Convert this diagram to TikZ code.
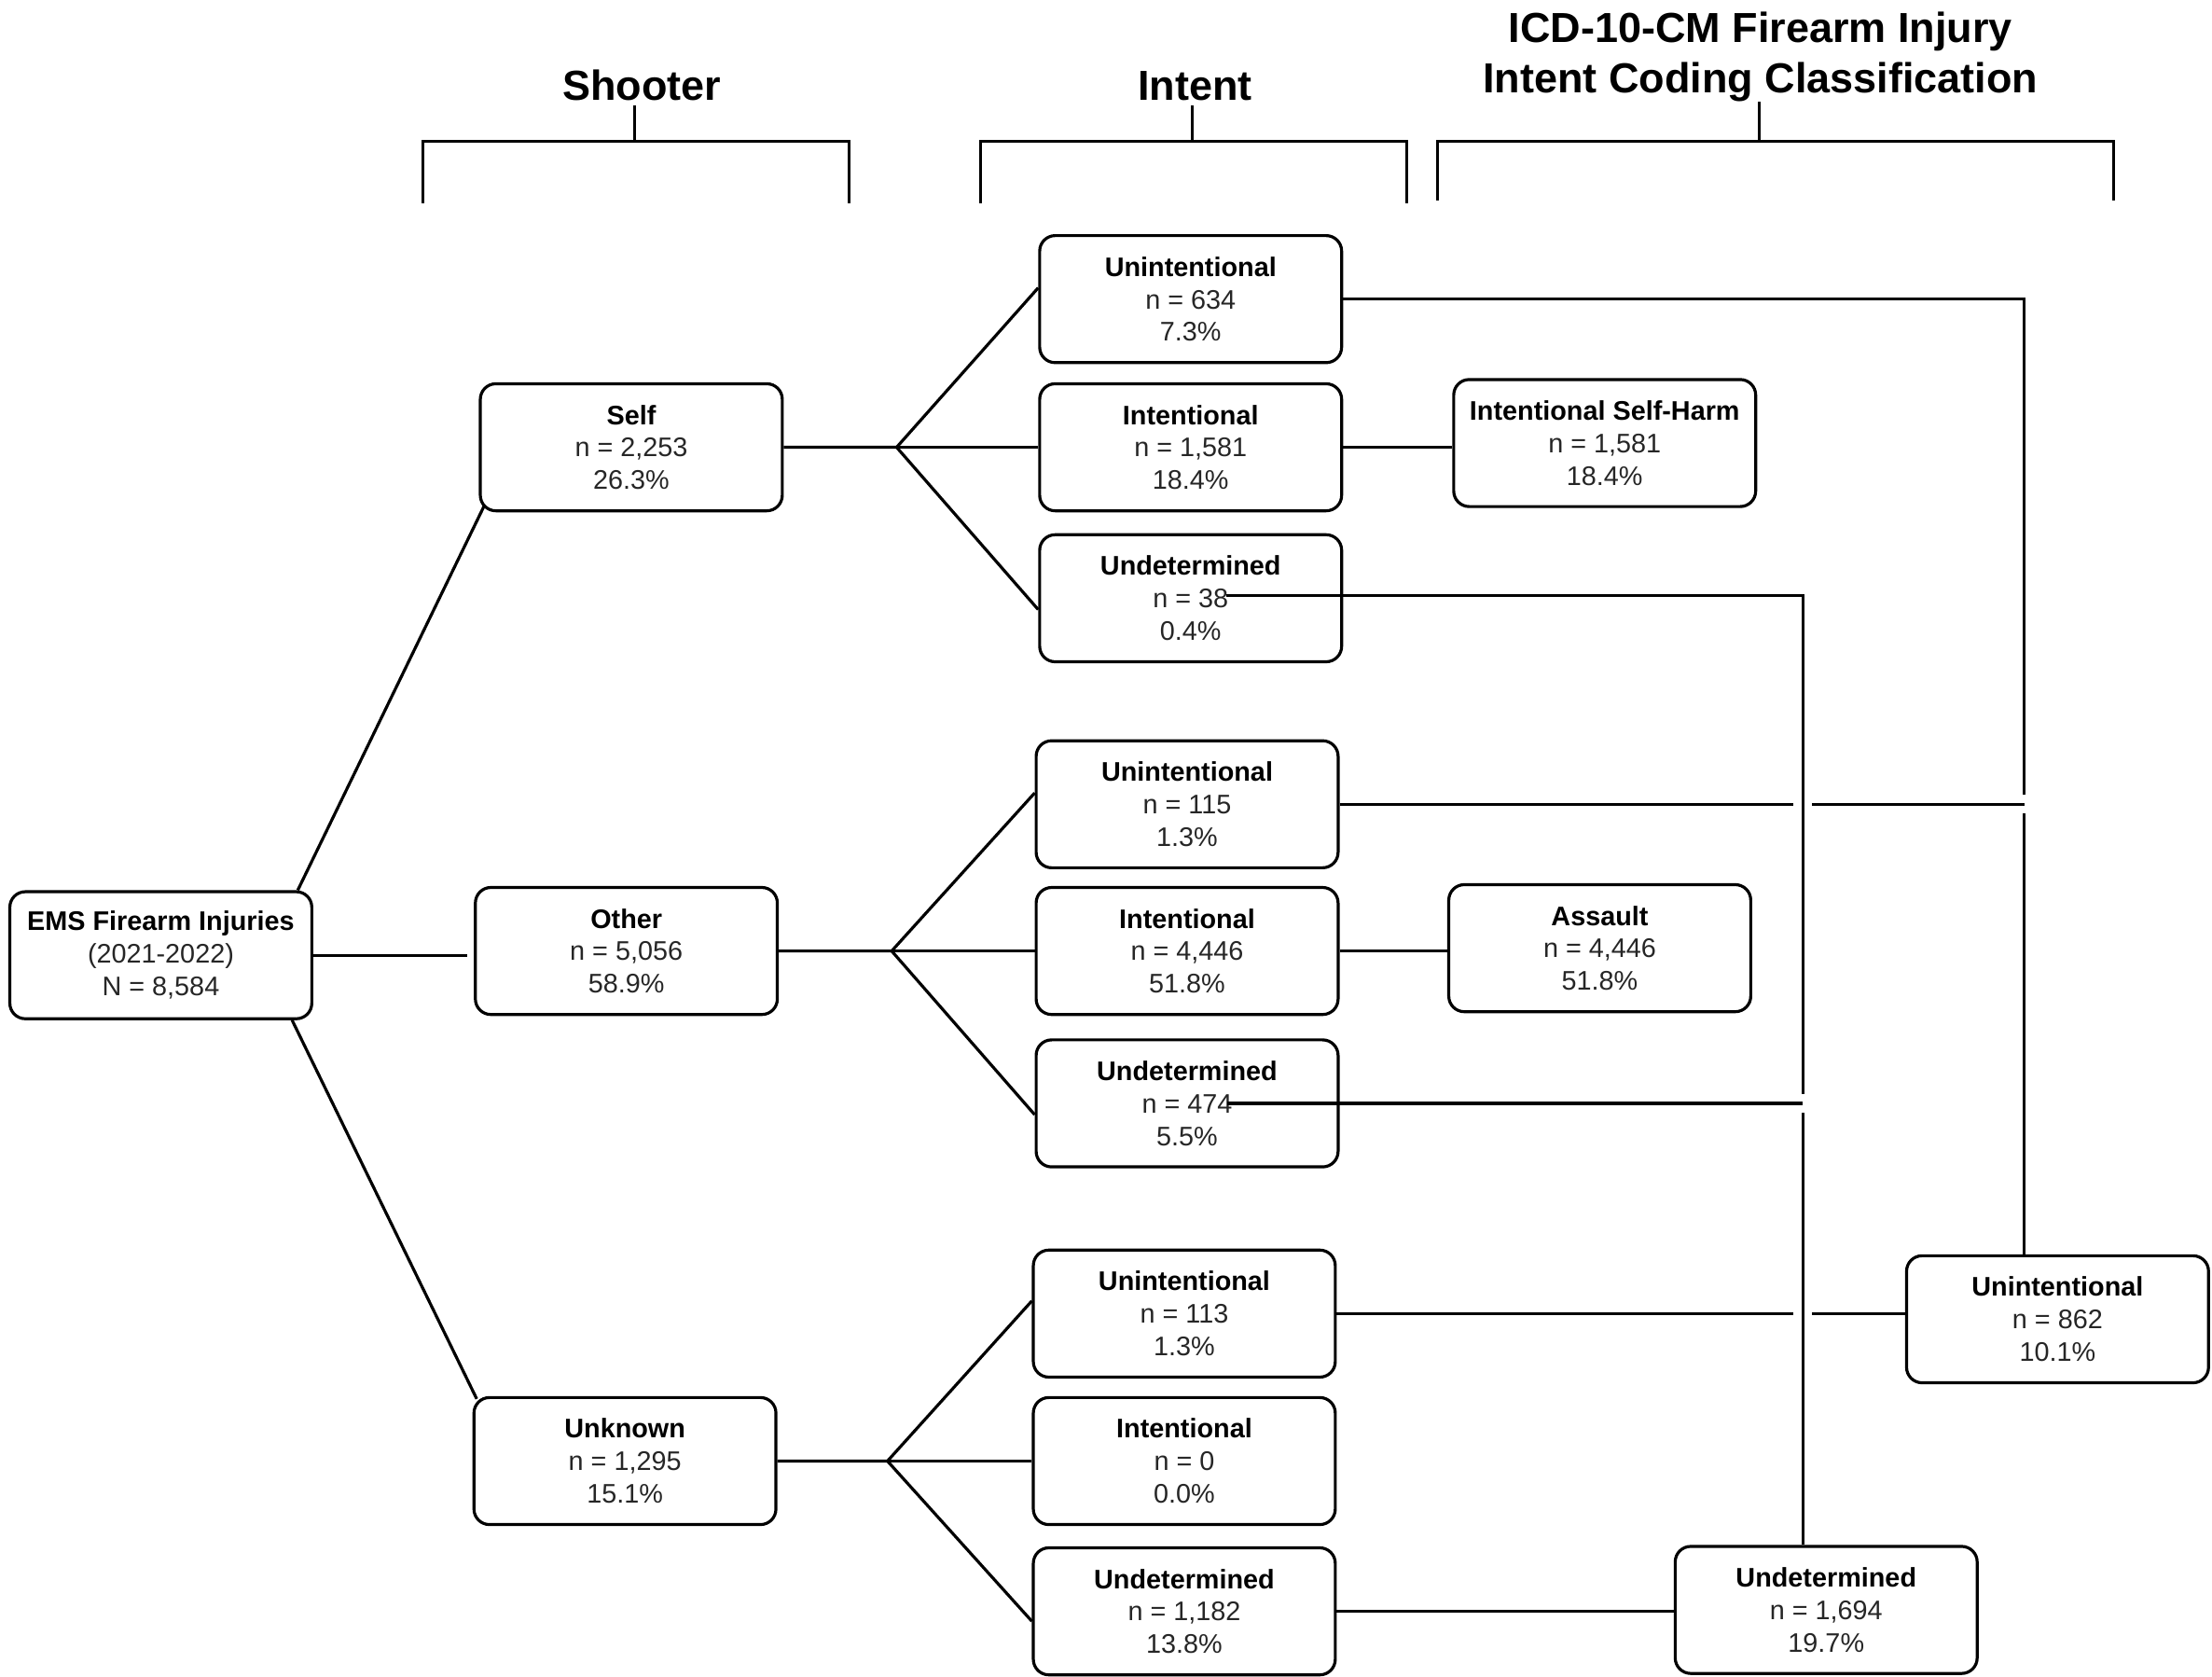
\documentclass[tikz,border=0pt]{standalone}
\usepackage{fontspec}
\setmainfont{Liberation Sans}
\usetikzlibrary{calc}
\newcommand{\boxtxt}[3]{{\color{black}\bfseries #1}\\#2\\#3}
\tikzset{
  box/.style={draw=black, rounded corners=8.3pt, line width=1.6pt, minimum width=161.9pt, minimum height=68.1pt,
    align=center, inner sep=0pt, font=\fontsize{14.4}{17.4}\selectfont, text=black!85},
  conn/.style={line width=1.6pt, draw=black},
  hdr/.style={font=\fontsize{22.5}{27}\selectfont\bfseries, anchor=base, inner sep=0pt},
}
\begin{document}
\begin{tikzpicture}[x=0.7564pt, y=-0.7564pt]
\useasboundingbox (0,0) rectangle (1568,1188);
\fill[white] (0,0) rectangle (1568,1188);

% headers
\node[hdr] (hs) at (455,71) {Shooter};
\node[hdr] (hi) at (847,71) {Intent};
\node[hdr] (hc1) at (1248,30.4) {ICD-10-CM Firearm Injury};
\node[hdr] (hc2) at (1248,65.8) {Intent Coding Classification};
\draw[conn] (300,144) -- (300,100) -- (602,100) -- (602,144);
\draw[conn] (450,75) -- (450,100);
\draw[conn] (695,144) -- (695,100) -- (997,100) -- (997,144);
\draw[conn] (845,75) -- (845,100);
\draw[conn] (1019,142) -- (1019,100) -- (1498,100) -- (1498,142);
\draw[conn] (1247,72) -- (1247,100);

% nodes
\node[box] (ems) at (114,677) {\boxtxt{EMS Firearm Injuries}{(2021-2022)}{N = 8,584}};
\node[box] (self) at (447.5,317) {\boxtxt{Self}{n = 2,253}{26.3\%}};
\node[box] (other) at (444,674) {\boxtxt{Other}{n = 5,056}{58.9\%}};
\node[box] (unk) at (443,1035.5) {\boxtxt{Unknown}{n = 1,295}{15.1\%}};

\node[box] (u1) at (844,212) {\boxtxt{Unintentional}{n = 634}{7.3\%}};
\node[box] (i1) at (844,317) {\boxtxt{Intentional}{n = 1,581}{18.4\%}};
\node[box] (d1) at (844,424) {\boxtxt{Undetermined}{n = 38}{0.4\%}};
\node[box] (u2) at (841.5,570) {\boxtxt{Unintentional}{n = 115}{1.3\%}};
\node[box] (i2) at (841.5,674) {\boxtxt{Intentional}{n = 4,446}{51.8\%}};
\node[box] (d2) at (841.5,782) {\boxtxt{Undetermined}{n = 474}{5.5\%}};
\node[box] (u3) at (839.5,931) {\boxtxt{Unintentional}{n = 113}{1.3\%}};
\node[box] (i3) at (839.5,1035.5) {\boxtxt{Intentional}{n = 0}{0.0\%}};
\node[box] (d3) at (839.5,1142) {\boxtxt{Undetermined}{n = 1,182}{13.8\%}};

\node[box] (ish) at (1137.5,314) {\boxtxt{Intentional Self-Harm}{n = 1,581}{18.4\%}};
\node[box] (asl) at (1134,672) {\boxtxt{Assault}{n = 4,446}{51.8\%}};
\node[box] (cu) at (1458.5,935) {\boxtxt{Unintentional}{n = 862}{10.1\%}};
\node[box] (cd) at (1294.5,1141) {\boxtxt{Undetermined}{n = 1,694}{19.7\%}};

% root connectors
\draw[conn] ($(ems.north east)+(-11,0)$) -- ($(self.south west)+(4,-5)$);
\draw[conn] (ems.east) -- ($(ems.east -| other.west)+(-5,0)$);
\draw[conn] ($(ems.south east)+(-15,0)$) -- ($(unk.north west)+(3,2)$);

% fans
\coordinate (fs) at ($(self.east)+(80,0)$);
\draw[conn] (self.east) -- (fs) -- ($(u1.west)+(0,-8)$);
\draw[conn] (fs) -- (i1.west);
\draw[conn] (fs) -- ($(d1.west)+(0,8)$);
\coordinate (fo) at ($(other.east)+(80,0)$);
\draw[conn] (other.east) -- (fo) -- ($(u2.west)+(0,-8)$);
\draw[conn] (fo) -- (i2.west);
\draw[conn] (fo) -- ($(d2.west)+(0,8)$);
\coordinate (fu) at ($(unk.east)+(78,0)$);
\draw[conn] (unk.east) -- (fu) -- ($(u3.west)+(0,-9)$);
\draw[conn] (fu) -- (i3.west);
\draw[conn] (fu) -- ($(d3.west)+(0,7)$);

% intent to ICD
\draw[conn] (i1.east) -- (i1.east -| ish.west);
\draw[conn] (i2.east) -- (i2.east -| asl.west);
\draw[conn] (d3.east) -- (d3.east -| cd.west);

% long connectors
\coordinate (vx) at (1435,0);
\coordinate (wx) at (1278,0);
\draw[conn] (u1.east) -- (u1.east -| vx) -- ($(u2.east -| vx)+(0,-6.5)$);
\draw[conn] ($(u2.east -| vx)+(0,6.5)$) -- (vx |- cu.north);
\draw[conn] (u2.east) -- ($(u2.east -| wx)+(-6.5,0)$);
\draw[conn] ($(u2.east -| wx)+(6.5,0)$) -- (u2.east -| vx);

\coordinate (d1s) at ($(d1.center)+(25,-2)$);
\coordinate (d2s) at ($(d2.center)+(28.5,0)$);
\draw[conn] (d1s) -- (d1s -| wx) -- ($(d2s -| wx)+(0,-6.5)$);
\draw[conn] ($(d2s -| wx)+(0,6.5)$) -- (wx |- cd.north);
\draw[conn] (d2s) -- (d2s -| wx);

\draw[conn] (u3.east) -- ($(u3.east -| wx)+(-6.5,0)$);
\draw[conn] ($(u3.east -| wx)+(6.5,0)$) -- (u3.east -| cu.west);
\end{tikzpicture}
\end{document}
